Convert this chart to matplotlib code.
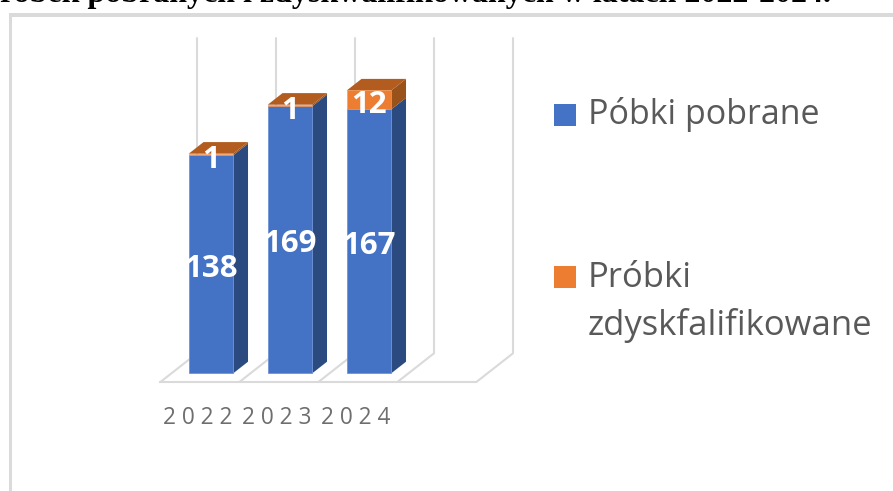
import matplotlib
matplotlib.use('Agg')
import matplotlib.pyplot as plt
from matplotlib.patches import Rectangle

# chart values
years = ['2022', '2023', '2024']
pobrane = [138, 169, 167]
zdyskwalifikowane = [1, 1, 12]
pobrane_label = 'Póbki pobrane'
zdysk_label = 'Próbki\nzdyskfalifikowane'
title = 'robek pobranych i zdyskwalifikowanych w latach 2022-2024.'

W, H = 893, 491
PX_X = 79.0    # pixels per category
PX_Y = 1.58    # pixels per sample
X0, Y0 = 160, 382.3   # front corner of the floor in pixels
AXIS_MAX = 200

# 3d look: how far the back of the floor is moved from the front
DEPTH_X = 37 / PX_X
DEPTH_Y = 29 / PX_Y
BAR_D0, BAR_D1 = 0.31, 0.71
BAR_W = 44.5 / PX_X

BLUE, BLUE_SIDE = '#4472C4', '#2B4A7F'
ORANGE, ORANGE_TOP, ORANGE_SIDE = '#ED7D31', '#B25C20', '#98521A'
GRID = '#DADADA'
TEXT = '#595959'

fig = plt.figure(figsize=(W / 100, H / 100), dpi=100)
ax = fig.add_axes([0, 0, 1, 1])
ax.set_xlim(-X0 / PX_X, (W - X0) / PX_X)
ax.set_ylim((Y0 - H) / PX_Y, Y0 / PX_Y)
ax.axis('off')


def pt(x, v, d):
    return x + d * DEPTH_X, v + d * DEPTH_Y


# floor and back wall
n_cells = 4
for i in range(n_cells + 1):
    xs, ys = zip(pt(i, 0, 0), pt(i, 0, 1), pt(i, AXIS_MAX, 1))
    ax.plot(xs, ys, color=GRID, lw=1.5, zorder=1, solid_capstyle='butt')
ax.plot([0, n_cells], [0, 0], color=GRID, lw=1.5, zorder=1)

# stacked bars
for i, year in enumerate(years):
    c = i + 0.5
    left = c - BAR_W / 2 + BAR_D0 * DEPTH_X
    right = left + BAR_W
    base = BAR_D0 * DEPTH_Y
    dx = (BAR_D1 - BAR_D0) * DEPTH_X
    dy = (BAR_D1 - BAR_D0) * DEPTH_Y
    low = pobrane[i]
    top = low + zdyskwalifikowane[i]

    ax.bar(left, low, BAR_W, bottom=base, align='edge', color=BLUE,
           edgecolor='#6F93D6', lw=0.6, zorder=3)
    ax.bar(left, top - low, BAR_W, bottom=base + low, align='edge', color=ORANGE,
           edgecolor='#F29A5E', lw=0.4, zorder=3)
    ax.fill([right, right + dx, right + dx, right],
            [base, base + dy, base + dy + low, base + low],
            color=BLUE_SIDE, lw=0, zorder=2)
    ax.fill([right, right + dx, right + dx, right],
            [base + low, base + dy + low, base + dy + top, base + top],
            color=ORANGE_SIDE, lw=0, zorder=2)
    ax.fill([left, right, right + dx, left + dx],
            [base + top, base + top, base + dy + top, base + dy + top],
            color=ORANGE_TOP, lw=0, zorder=2)

    # value labels, nudged to sit like the original
    mid = left + BAR_W / 2
    ax.text(mid, base + low / 2 - 0.5, str(low), color='white', fontsize=22.5, family='Open Sans',
            weight='bold', ha='center', va='center_baseline', zorder=5)
    ax.text(mid, base + low + zdyskwalifikowane[i] / 2 - 1, str(zdyskwalifikowane[i]),
            color='white', fontsize=22.5, family='Open Sans', weight='bold',
            ha='center', va='center_baseline', zorder=5)

    # spaced out like the original axis labels
    ax.text(c - 0.02, -22.8, ' '.join(year), color='#6E6E6E', fontsize=16.3, family='Open Sans',
            ha='center', va='center')

# legend, placed by hand because of the wrapped second entry
px = lambda x, y: (x / W, 1 - y / H)
for y_top, col in [(104, BLUE), (266, ORANGE)]:
    fig.add_artist(Rectangle(px(554, y_top + 21.5), 22 / W, 21.5 / H, color=col, lw=0))
fig.text(*px(588, 115), pobrane_label, color=TEXT, fontsize=24.5, family='Open Sans', va='center')
fig.text(*px(588, 302), zdysk_label, color=TEXT, fontsize=24.9, family='Open Sans', va='center',
         linespacing=1.5)

# frame of the pasted picture and the cut off caption above it
fig.add_artist(Rectangle(px(8.6, 491), 3.4 / W, (491 - 13.3) / H, color=GRID, lw=0))
fig.add_artist(Rectangle(px(8.6, 16.7), (W - 8.6) / W, 3.4 / H, color=GRID, lw=0))
fig.text(*px(0, 2), title, color='black', fontsize=23, family='Liberation Serif', weight='bold',
         va='baseline')

fig.savefig('out.png', dpi=100)
